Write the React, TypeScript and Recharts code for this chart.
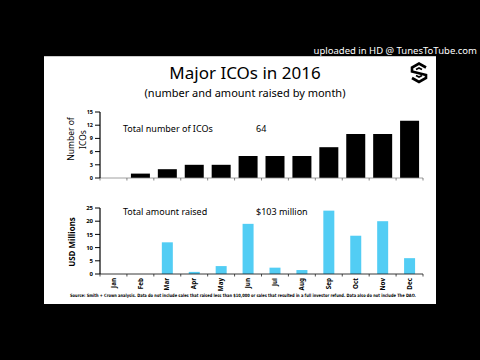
import { BarChart, Bar, XAxis, YAxis } from "recharts";

const MONTHS = ['Jan', 'Feb', 'Mar', 'Apr', 'May', 'Jun', 'Jul', 'Aug', 'Sep', 'Oct', 'Nov', 'Dec'];
const ICO_COUNTS = [0, 1, 2, 3, 3, 5, 5, 5, 7, 10, 10, 13];
const AMOUNT_RAISED = [0, 0, 12, 0.8, 3, 19, 2.4, 1.5, 24, 14.5, 20, 6];
const COUNT_TICKS = [0, 3, 6, 9, 12, 15];
const AMOUNT_TICKS = [0, 5, 10, 15, 20, 25];

const countData = MONTHS.map((m, i) => ({ month: m, value: ICO_COUNTS[i] }));
const amountData = MONTHS.map((m, i) => ({ month: m, value: AMOUNT_RAISED[i] }));

const FONT = '"Noto Sans", "DejaVu Sans", sans-serif';
const NARROW = '"Liberation Sans Narrow", "DejaVu Sans Condensed", "Noto Sans", sans-serif';
const CHART_W = 392;
const MARGIN_L = 16;
const MARGIN_R = 13;
const Y_W = 40;
const BAND = (CHART_W - MARGIN_L - MARGIN_R - Y_W) / MONTHS.length;

// tick marks sit between the months, labels (bottom chart only) under the bars
const MonthTick = ({ x, y, index, payload, showLabel, color }: any) => (
  <g>
    <line x1={x - BAND / 2} x2={x - BAND / 2} y1={y} y2={y + 2.5} stroke={color} strokeWidth={0.8} />
    {index === MONTHS.length - 1 && (
      <line x1={x + BAND / 2} x2={x + BAND / 2} y1={y} y2={y + 2.5} stroke={color} strokeWidth={0.8} />
    )}
    {showLabel && (
      <text
        transform={`translate(${x + 2.2},${y + 4}) rotate(-90)`}
        textAnchor="end"
        fontSize={6.3}
        fontWeight="bold"
        fontFamily={FONT}
        fill="#000"
      >
        {payload.value}
      </text>
    )}
  </g>
);

const yTick = { fontSize: 5.5, fill: '#000', fontWeight: 'bold', fontFamily: FONT };

const Logo = () => (
  <g fill="none" stroke="#000" strokeWidth={2.6} strokeLinejoin="miter">
    <path d="M426 67.5 L419 63.5 L412 67.5 L412 71.5 L426 75 L426 78 L419 82 L412 78" />
    <path d="M422 69.5 L419 68 L416 69.5 M416 75.5 L419 77 L422 75.5" strokeWidth={1.8} />
  </g>
);

export default function App() {
  return (
    <div style={{ position: 'absolute', left: 0, top: 0, width: 480, height: 360, background: '#000', overflow: 'hidden' }}>
      <div style={{ position: 'absolute', left: 44, top: 56, width: 392, height: 248, background: '#fff', borderTop: '1px solid #ccc', boxSizing: 'border-box' }} />

      <div style={{ position: 'absolute', left: 44, top: 100 }}>
        <BarChart width={CHART_W} height={90} data={countData} margin={{ top: 12, right: MARGIN_R, bottom: 10, left: MARGIN_L }}>
          <XAxis
            dataKey="month"
            height={2}
            interval={0}
            tickSize={0}
            tickMargin={0}
            tickLine={false}
            axisLine={{ stroke: '#888', strokeWidth: 0.8 }}
            tick={<MonthTick color="#666" />}
          />
          <YAxis
            width={Y_W}
            domain={[0, 15]}
            ticks={COUNT_TICKS}
            interval={0}
            tickSize={5}
            tickMargin={2}
            axisLine={{ stroke: '#000', strokeWidth: 1.2 }}
            tickLine={{ stroke: '#000', strokeWidth: 1 }}
            tick={yTick}
          />
          <Bar dataKey="value" fill="#000" barSize={19} isAnimationActive={false} />
        </BarChart>
      </div>

      <div style={{ position: 'absolute', left: 44, top: 196 }}>
        <BarChart width={CHART_W} height={100} data={amountData} margin={{ top: 12, right: MARGIN_R, bottom: 2, left: MARGIN_L }}>
          <XAxis
            dataKey="month"
            height={20}
            interval={0}
            tickSize={0}
            tickMargin={0}
            tickLine={false}
            axisLine={{ stroke: '#222', strokeWidth: 0.9 }}
            tick={<MonthTick color="#222" showLabel />}
          />
          <YAxis
            width={Y_W}
            domain={[0, 25]}
            ticks={AMOUNT_TICKS}
            interval={0}
            tickSize={5}
            tickMargin={2}
            axisLine={{ stroke: '#000', strokeWidth: 1.2 }}
            tickLine={{ stroke: '#000', strokeWidth: 1 }}
            tick={{ ...yTick, fontSize: 6 }}
          />
          <Bar dataKey="value" fill="#52cdf4" barSize={11} isAnimationActive={false} />
        </BarChart>
      </div>

      <svg width={480} height={360} style={{ position: 'absolute', left: 0, top: 0, pointerEvents: 'none' }} fontFamily={FONT}>
        <text x={477} y={54} textAnchor="end" fill="#fff" fontSize={9.5}>uploaded in HD @ TunesToTube.com</text>
        <text x={245} y={79} textAnchor="middle" fontSize={17}>Major ICOs in 2016</text>
        <text x={245} y={97} textAnchor="middle" fontSize={11}>(number and amount raised by month)</text>
        <Logo />

        <text transform="translate(74,139) rotate(-90)" textAnchor="middle" fontSize={8.5}>Number of</text>
        <text transform="translate(85.5,139.5) rotate(-90)" textAnchor="middle" fontSize={8.5}>ICOs</text>
        <text x={123} y={132} fontSize={9}>Total number of ICOs</text>
        <text x={256} y={132} fontSize={9}>64</text>

        <text transform="translate(75,242) rotate(-90)" textAnchor="middle" fontSize={8} fontWeight="bold">USD Millions</text>
        <text x={123} y={215} fontSize={9}>Total amount raised</text>
        <text x={256} y={215} fontSize={9}>$103 million</text>

        <text x={70} y={297} fontSize={4.5} fontWeight="bold" fontFamily={NARROW} textLength={346} lengthAdjust="spacingAndGlyphs">
          Source: Smith + Crown analysis. Data do not include sales that raised less than $10,000 or sales that resulted in a full investor refund. Data also do not include The DAO.
        </text>
      </svg>
    </div>
  );
}
